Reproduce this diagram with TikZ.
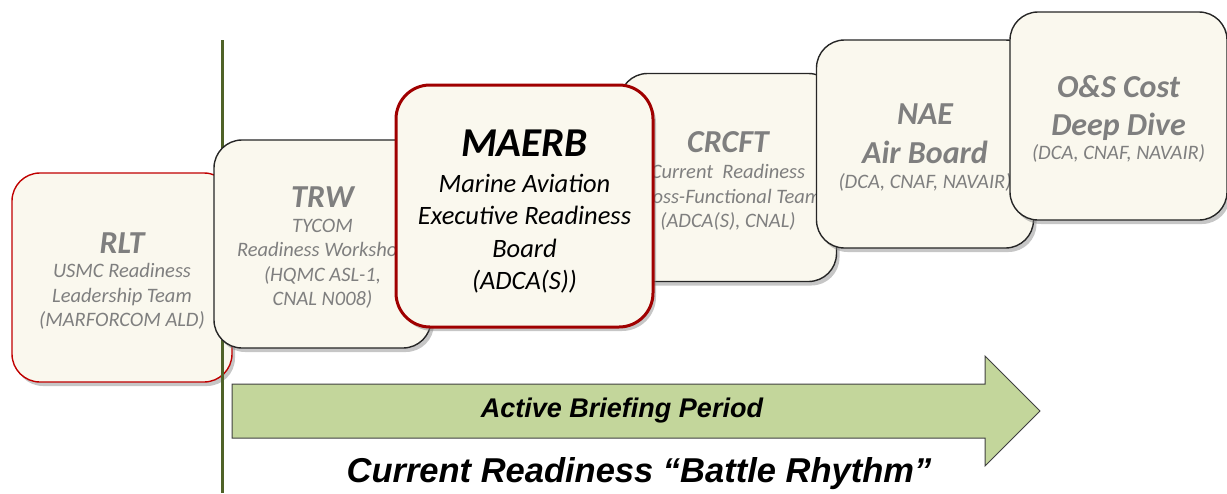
\documentclass[tikz,border=0pt]{standalone}
\usepackage{fontspec}
\setmainfont{Carlito}
\newfontfamily\arialfont{Liberation Sans}
\usepackage{tikz}
\usetikzlibrary{shadows}

\definecolor{cream}{HTML}{FAF8EE}
\definecolor{boxred}{HTML}{C00000}
\definecolor{darkred}{HTML}{A00000}
\definecolor{textgray}{HTML}{7F7F7F}
\definecolor{olive}{HTML}{4F6228}
\definecolor{arrowgreen}{HTML}{C3D69B}

\newcommand{\ttl}[1]{{\fontsize{32}{36}\selectfont\bfseries\rule{0pt}{28pt}#1}}
\newcommand{\bigttl}[1]{{\fontsize{41}{44}\selectfont\bfseries\rule{0pt}{38pt}#1}}

\begin{document}
\begin{tikzpicture}[x=1pt, y=-1pt,
		panel/.style={draw, line width=1.4pt, fill=cream, rounded corners=28pt, inner sep=0pt, align=center,
			text=textgray, font=\fontsize{20.5}{24.5}\selectfont\itshape,
			drop shadow={shadow xshift=3pt, shadow yshift=-4pt, opacity=0.45}},
		blackpanel/.style={panel, draw=black!85, minimum width=217pt, minimum height=208pt},
		redpanel/.style={panel, draw=boxred, minimum width=220pt, minimum height=209pt}]
	\useasboundingbox (0,0) rectangle (1227,493);

	% boxes, back to front
	\node[redpanel] (rlt) at (122, 277.5) {\ttl{RLT}\\USMC Readiness\\Leadership Team\\(MARFORCOM ALD)};
	\draw [olive, line width=3pt] (222, 40) -- (222, 493);
	\node[blackpanel] (trw) at (322.5, 244) {\ttl{TRW}\\TYCOM\\Readiness Workshop\\(HQMC ASL-1,\\CNAL N008)};
	\node[blackpanel] (crcft) at (728, 177.5) {\ttl{CRCFT}\\[2pt]Current\ \ Readiness\\Cross-Functional Team\\(ADCA(S), CNAL)};
	\node[blackpanel] (nae) at (925, 144) {\ttl{NAE}\\[10pt]\ttl{Air Board}\\[1pt](DCA, CNAF, NAVAIR)};
	\node[blackpanel] (oands) at (1118.5, 116) {\ttl{O\&S Cost}\\[9pt]\ttl{Deep Dive}\\[-1pt](DCA, CNAF, NAVAIR)};
	\node[panel, draw=darkred, line width=3pt, rounded corners=34pt, minimum width=257pt, minimum height=242pt,
		text=black, font=\fontsize{26.5}{32.5}\selectfont\itshape] (maerb) at (524.5, 206)
		{\bigttl{MAERB}\\[3pt]Marine Aviation\\Executive Readiness\\Board\\(ADCA(S))};

	% timeline arrow
	\draw [fill=arrowgreen, draw=black!75, line width=1pt] (232, 384) -- (985, 384) -- (985, 356) -- (1040, 411)
		-- (985, 466) -- (985, 438) -- (232, 438) -- cycle;
	\node (brief) at (622, 411) {\arialfont\fontsize{27}{30}\selectfont\bfseries\itshape Active Briefing Period};
	\node (rhythm) at (639, 474) {\arialfont\fontsize{34.5}{38}\selectfont\bfseries\itshape Current Readiness “Battle Rhythm”};
\end{tikzpicture}
\end{document}
